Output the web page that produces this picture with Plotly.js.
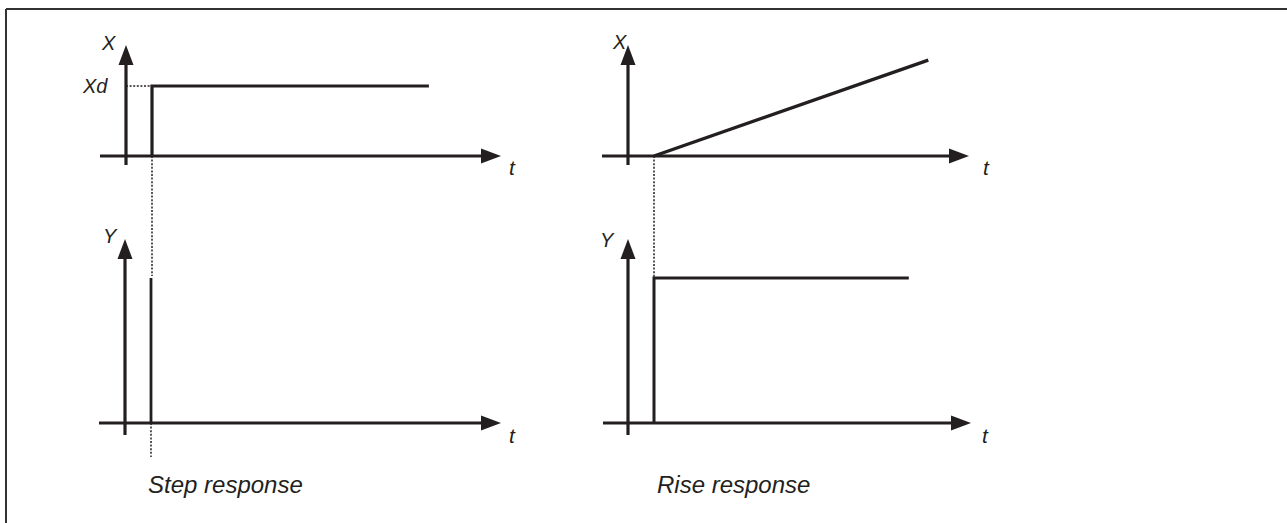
<!DOCTYPE html>
<html><head><meta charset="utf-8">
<script src="https://cdn.plot.ly/plotly-3.0.1.min.js"></script>
<style>html,body{margin:0;padding:0;background:#fff}#chart{width:1287px;height:523px}</style>
</head><body><div id="chart"></div>
<script>
// ---- signal data (time in units of the delay, amplitude normalised) ----
const stepInputT  = [1, 1, 11.65];
const stepInputX  = [0, 1, 1];
const rampInputT  = [1, 11.55];
const rampInputX  = [0, 1.37];
const stepOutputT = [1, 1];
const stepOutputY = [0, 1];
const rampOutputT = [1, 1, 10.8];
const rampOutputY = [0, 1, 1];
const xdLevel = 1;
// ---- texts ----
const panelTitles = ["Step response", "Rise response"];
const valueAxisNames = ["X", "X", "Y", "Y"];
const timeAxisName = "t";
const setpointLabel = "Xd";

// ---- layout geometry (pixels) ----
const W = 1287, H = 523;
const INK = '#231f20';
const panels = [
  {xa:'x',  ya:'y',  ox:126, oy:156, sx:26, sy:70,  dom:[60,560,20,290],
   h:[100,501,156], v:[126,165,45],  name:[108,43],  tl:[512,167]},
  {xa:'x2', ya:'y2', ox:628, oy:156, sx:26, sy:70,  dom:[580,1060,20,290],
   h:[602,969,156], v:[628,165,45],  name:[619,42],  tl:[986,167]},
  {xa:'x3', ya:'y3', ox:125, oy:423, sx:26, sy:145, dom:[60,560,220,480],
   h:[99,501,423],  v:[125,435,239], name:[110,236], tl:[512,435]},
  {xa:'x4', ya:'y4', ox:628, oy:423, sx:26, sy:145, dom:[580,1060,220,480],
   h:[603,971,423], v:[628,435,239], name:[607,240], tl:[985,435]}
];
const tx = (p, px) => (px - p.ox) / p.sx;
const ty = (p, py) => (p.oy - py) / p.sy;

const layout = {
  width: W, height: H, margin:{l:0,r:0,t:0,b:0},
  paper_bgcolor:'#fff', plot_bgcolor:'rgba(0,0,0,0)',
  showlegend:false, shapes:[], annotations:[]
};
const fontBase = {family:'"Liberation Sans", Arial, sans-serif', style:'italic', color:INK};

panels.forEach((p, i) => {
  const xk = 'xaxis' + (i ? i+1 : ''), yk = 'yaxis' + (i ? i+1 : '');
  layout[xk] = {domain:[p.dom[0]/W, p.dom[1]/W], range:[tx(p,p.dom[0]), tx(p,p.dom[1])],
                visible:false, fixedrange:true, anchor:p.ya};
  layout[yk] = {domain:[1-p.dom[3]/H, 1-p.dom[2]/H], range:[ty(p,p.dom[3]), ty(p,p.dom[2])],
                visible:false, fixedrange:true, anchor:p.xa};
  const AL = 20, AH = 7.5;
  // time axis line + arrowhead
  layout.shapes.push({type:'line', xref:p.xa, yref:p.ya, layer:'above',
    x0:tx(p,p.h[0]), x1:tx(p,p.h[1]-AL+2), y0:ty(p,p.h[2]), y1:ty(p,p.h[2]),
    line:{color:INK, width:3.2}});
  layout.shapes.push({type:'path', xref:p.xa, yref:p.ya, xsizemode:'pixel', ysizemode:'pixel',
    xanchor:tx(p,p.h[1]), yanchor:ty(p,p.h[2]), layer:'above',
    path:`M0,0L${-AL},${AH}L${-AL},${-AH}Z`, fillcolor:INK, line:{width:0}});
  // value axis line + arrowhead
  layout.shapes.push({type:'line', xref:p.xa, yref:p.ya, layer:'above',
    x0:tx(p,p.v[0]), x1:tx(p,p.v[0]), y0:ty(p,p.v[1]), y1:ty(p,p.v[2]+AL-2),
    line:{color:INK, width:3.2}});
  layout.shapes.push({type:'path', xref:p.xa, yref:p.ya, xsizemode:'pixel', ysizemode:'pixel',
    xanchor:tx(p,p.v[0]), yanchor:ty(p,p.v[2]), layer:'above',
    path:`M0,0L${-AH},${-AL}L${AH},${-AL}Z`, fillcolor:INK, line:{width:0}});
  // labels
  layout.annotations.push({xref:'paper', yref:'paper', x:p.name[0]/W, y:1-p.name[1]/H,
    text:valueAxisNames[i], showarrow:false, xanchor:'center', yanchor:'middle',
    font:Object.assign({size:20}, fontBase)});
  layout.annotations.push({xref:'paper', yref:'paper', x:p.tl[0]/W, y:1-p.tl[1]/H,
    text:timeAxisName, showarrow:false, xanchor:'center', yanchor:'middle',
    font:Object.assign({size:21}, fontBase)});
});

// dotted guides
const dot = {color:INK, width:1.5, dash:'2px,1.6px'};
const TL = panels[0], TR = panels[1], BL = panels[2];
layout.shapes.push({type:'line', xref:'x', yref:'y', x0:0, x1:stepInputT[0], y0:xdLevel, y1:xdLevel, line:dot});
layout.shapes.push({type:'line', xref:'x', yref:'y', x0:stepInputT[0], x1:stepInputT[0], y0:0, y1:ty(TL,276), line:dot});
layout.shapes.push({type:'line', xref:'x3', yref:'y3', x0:stepOutputT[0], x1:stepOutputT[0], y0:0, y1:ty(BL,457), line:dot});
layout.shapes.push({type:'line', xref:'x2', yref:'y2', x0:rampInputT[0], x1:rampInputT[0], y0:0, y1:ty(TR,278), line:dot});

// setpoint label and panel titles
layout.annotations.push({xref:'paper', yref:'paper', x:95/W, y:1-86/H, text:setpointLabel,
  showarrow:false, xanchor:'center', yanchor:'middle', font:Object.assign({size:20}, fontBase)});
layout.annotations.push({xref:'paper', yref:'paper', x:146/W, y:1-484/H, text:panelTitles[0],
  showarrow:false, xanchor:'left', yanchor:'middle', font:Object.assign({size:24}, fontBase)});
layout.annotations.push({xref:'paper', yref:'paper', x:655/W, y:1-484/H, text:panelTitles[1],
  showarrow:false, xanchor:'left', yanchor:'middle', font:Object.assign({size:24}, fontBase)});

// frame (top and left edges)
layout.shapes.push({type:'line', xref:'paper', yref:'paper', x0:6/W, x1:1, y0:1-9/H, y1:1-9/H, line:{color:'#333', width:2}});
layout.shapes.push({type:'line', xref:'paper', yref:'paper', x0:6/W, x1:6/W, y0:0, y1:1-9/H, line:{color:'#333', width:2}});

const ln = w => ({color:INK, width:w, shape:'linear'});
const data = [
  {type:'scatter', mode:'lines', x:stepInputT,  y:stepInputX,  xaxis:'x',  yaxis:'y',  line:ln(3.2), hoverinfo:'skip'},
  {type:'scatter', mode:'lines', x:rampInputT,  y:rampInputX,  xaxis:'x2', yaxis:'y2', line:ln(3.4), hoverinfo:'skip'},
  {type:'scatter', mode:'lines', x:stepOutputT, y:stepOutputY, xaxis:'x3', yaxis:'y3', line:ln(2.8), hoverinfo:'skip'},
  {type:'scatter', mode:'lines', x:rampOutputT, y:rampOutputY, xaxis:'x4', yaxis:'y4', line:ln(3),   hoverinfo:'skip'}
];
Plotly.newPlot('chart', data, layout, {staticPlot:true, displayModeBar:false});
</script>
</body></html>
